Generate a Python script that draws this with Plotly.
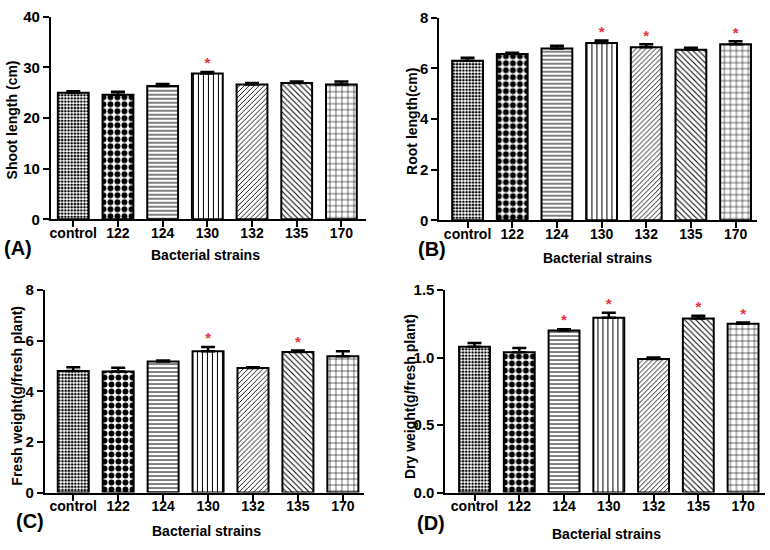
import plotly.graph_objects as go

categories = ["control", "122", "124", "130", "132", "135", "170"]

shoot_length = [25.0, 24.6, 26.3, 28.8, 26.6, 26.9, 26.6]
shoot_err = [0.3, 0.6, 0.4, 0.3, 0.3, 0.3, 0.6]
shoot_sig = [False, False, False, True, False, False, False]

root_length = [6.30, 6.57, 6.78, 7.00, 6.83, 6.73, 6.95]
root_err = [0.12, 0.05, 0.11, 0.10, 0.12, 0.08, 0.12]
root_sig = [False, False, False, True, True, False, True]

fresh_weight = [4.80, 4.78, 5.18, 5.58, 4.92, 5.55, 5.38]
fresh_err = [0.15, 0.15, 0.04, 0.17, 0.03, 0.06, 0.20]
fresh_sig = [False, False, False, True, False, True, False]

dry_weight = [1.08, 1.04, 1.20, 1.295, 0.99, 1.29, 1.25]
dry_err = [0.028, 0.03, 0.01, 0.036, 0.01, 0.02, 0.01]
dry_sig = [False, False, True, True, False, True, True]

panels = [
    dict(vals=shoot_length, err=shoot_err, sig=shoot_sig, ytitle="Shoot length (cm)",
         yrange=[0, 40], dtick=10, tickformat="d", label="(A)",
         xdom=[50/770, 365/770], ydom=[1-217/550, 1-8/550], xr=[-0.5, 6.54],
         ytx=11, yty=114, xtx=205, xty=254, lx=17, ly=247),
    dict(vals=root_length, err=root_err, sig=root_sig, ytitle="Root length(cm)",
         yrange=[0, 8], dtick=2, tickformat="d", label="(B)",
         xdom=[439/770, 757/770], ydom=[1-218/550, 1-9/550], xr=[-0.63, 6.48],
         ytx=412, yty=116, xtx=597, xty=257, lx=432, ly=248),
    dict(vals=fresh_weight, err=fresh_err, sig=fresh_sig, ytitle="Fresh weight(g/fresh plant)",
         yrange=[0, 8], dtick=2, tickformat="d", label="(C)",
         xdom=[44/770, 363/770], ydom=[1-499/550, 1-290/550], xr=[-0.63, 6.46],
         ytx=16, yty=399, xtx=206, xty=539, lx=29, ly=528),
    dict(vals=dry_weight, err=dry_err, sig=dry_sig, ytitle="Dry weight(g/fresh plant)",
         yrange=[0, 1.5], dtick=0.5, tickformat=".1f", label="(D)",
         xdom=[445/770, 765/770], ydom=[1-499/550, 1-290/550], xr=[-0.65, 6.49],
         ytx=409, yty=400, xtx=606, xty=542, lx=431, ly=530),
]

patterns = [
    dict(shape=".", size=3.2, solidity=0.5),
    dict(shape=".", size=7, solidity=0.55),
    dict(shape="-", size=4, solidity=0.25),
    dict(shape="|", size=5, solidity=0.2),
    dict(shape="/", size=3.5, solidity=0.25),
    dict(shape="\\", size=4, solidity=0.25),
    dict(shape="+", size=6, solidity=0.18),
]

FONT = "Liberation Sans"
fig = go.Figure()
annotations = []

for i, p in enumerate(panels):
    n = "" if i == 0 else str(i + 1)
    xa, ya = "x" + n, "y" + n
    for j, cat in enumerate(categories):
        pat = patterns[j]
        fig.add_trace(go.Bar(
            x=[cat], y=[p["vals"][j]], xaxis=xa, yaxis=ya, width=0.69,
            marker=dict(color="white", line=dict(color="black", width=2),
                        pattern=dict(shape=pat["shape"], size=pat["size"], solidity=pat["solidity"],
                                     fgcolor="black", bgcolor="white", fillmode="replace")),
            error_y=dict(type="data", symmetric=False, array=[p["err"][j]], arrayminus=[0],
                         color="black", thickness=2.5, width=7),
            showlegend=False,
        ))
    sx = [c for c, s in zip(categories, p["sig"]) if s]
    sy = [v + e for v, e, s in zip(p["vals"], p["err"], p["sig"]) if s]
    fig.add_trace(go.Scatter(
        x=sx, y=sy, xaxis=xa, yaxis=ya, mode="text", text=["*"] * len(sx),
        textposition="top center", cliponaxis=False,
        textfont=dict(color="#e8323a", size=15, family=FONT, weight="bold"),
        showlegend=False,
    ))
    axkw = dict(domain=p["xdom"], anchor=ya, type="category", categoryorder="array",
                categoryarray=categories, range=p["xr"], showline=True, linecolor="black",
                linewidth=2, ticks="outside", ticklen=6, tickwidth=2, tickcolor="black",
                ticklabelstandoff=-6,
                showgrid=False, zeroline=False,
                tickfont=dict(family=FONT, size=14, color="black", weight="bold"))
    aykw = dict(domain=p["ydom"], anchor=xa, range=p["yrange"], dtick=p["dtick"], tick0=0,
                tickformat=p["tickformat"], showline=True, linecolor="black", linewidth=2,
                ticks="outside", ticklen=6, tickwidth=2, tickcolor="black",
                showgrid=False, zeroline=False,
                tickfont=dict(family=FONT, size=15, color="black", weight="bold"))
    fig.update_layout(**{"xaxis" + n: axkw, "yaxis" + n: aykw})
    annotations.append(dict(text=p["ytitle"], x=p["ytx"]/770, y=1-p["yty"]/550, xref="paper",
                            yref="paper", textangle=-90, showarrow=False, xanchor="center",
                            yanchor="middle",
                            font=dict(family=FONT, size=14, color="black", weight="bold")))
    annotations.append(dict(text="Bacterial strains", x=p["xtx"]/770, y=1-p["xty"]/550,
                            xref="paper", yref="paper", showarrow=False, xanchor="center",
                            yanchor="middle",
                            font=dict(family=FONT, size=14, color="black", weight="bold")))
    annotations.append(dict(text=p["label"], x=p["lx"]/770, y=1-p["ly"]/550, xref="paper",
                            yref="paper", showarrow=False, xanchor="center", yanchor="middle",
                            font=dict(family=FONT, size=20, color="black", weight="bold")))

fig.update_layout(width=770, height=550, margin=dict(l=0, r=0, t=0, b=0),
                  paper_bgcolor="white", plot_bgcolor="white", bargap=0.3,
                  annotations=annotations)

fig.write_html("out.html", config={"displayModeBar": False},
               post_script="document.body.style.margin='0';document.body.style.overflow='hidden';")
